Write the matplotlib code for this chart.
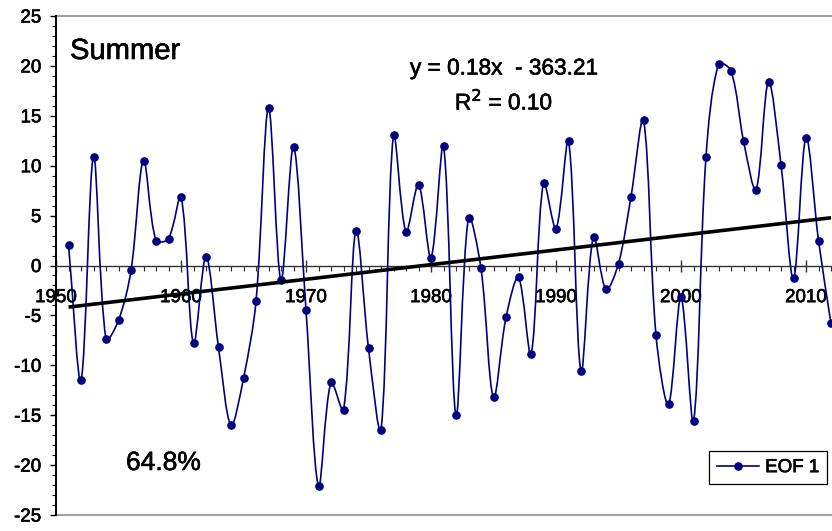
import numpy as np
import matplotlib
matplotlib.use("Agg")
import matplotlib.pyplot as plt
from matplotlib.path import Path
from matplotlib.patches import PathPatch
from matplotlib.lines import Line2D
from matplotlib.ticker import MultipleLocator
import matplotlib.patheffects as pe

plt.rcParams['font.family'] = ['Liberation Sans', 'DejaVu Sans']

# ---- data ----
years = list(range(1951, 2013))
eof1 = [2.1, -11.5, 10.9, -7.4, -5.5, -0.5, 10.5, 2.5, 2.7, 6.9,
        -7.8, 0.9, -8.2, -16.0, -11.3, -3.6, 15.8, -1.5, 11.9, -4.5,
        -22.1, -11.7, -14.5, 3.5, -8.3, -16.5, 13.1, 3.4, 8.1, 0.8,
        12.0, -15.0, 4.8, -0.3, -13.2, -5.2, -1.2, -8.9, 8.3, 3.7,
        12.5, -10.6, 2.9, -2.4, 0.2, 6.9, 14.6, -7.0, -13.9, -3.2,
        -15.6, 10.9, 20.2, 19.5, 12.5, 7.6, 18.4, 10.1, -1.3, 12.8,
        2.5, -5.8]
series_label = "EOF 1"
season_label = "Summer"
variance_label = "64.8%"
equation_text = "y = 0.18x  - 363.21"
r2_text = "R$^2$ = 0.10"
x_ticks = [1950, 1960, 1970, 1980, 1990, 2000, 2010]
y_ticks = [-25, -20, -15, -10, -5, 0, 5, 10, 15, 20, 25]

NAVY = "#000080"
GRAY = "#a0a0a0"
THICK = [pe.withStroke(linewidth=0.45, foreground="black")]

fig = plt.figure(figsize=(8.32, 5.31), dpi=100)
W, H = 832, 531
ax = fig.add_axes([56 / W, (H - 515) / H, (831 - 56) / W, (515 - 16) / H])
ax.set_xlim(1950, 2012)
ax.set_ylim(-25, 25)

# smoothed line: Bezier with tangents scaled by neighbouring segment lengths
x = np.array(years, dtype=float)
y = np.array(eof1, dtype=float)
pts = np.column_stack([x, y])
n = len(pts)
sx, sy = 12.5, 10.0  # approx pixels per data unit (for segment lengths)
seg = np.hypot(np.diff(x) * sx, np.diff(y) * sy)
tang = np.zeros_like(pts)
tang[0] = pts[1] - pts[0]
tang[-1] = pts[-1] - pts[-2]
for i in range(1, n - 1):
    tang[i] = pts[i + 1] - pts[i - 1]
verts = [pts[0]]
codes = [Path.MOVETO]
for i in range(n - 1):
    d = seg[i]
    d_prev = seg[i - 1] if i > 0 else d
    d_next = seg[i + 1] if i + 1 < n - 1 else d
    f1 = d / (d_prev + d) / 3.0 if i > 0 else 1.0 / 3.0
    f2 = d / (d + d_next) / 3.0 if i + 1 < n - 1 else 1.0 / 3.0
    c1 = pts[i] + tang[i] * f1
    c2 = pts[i + 1] - tang[i + 1] * f2
    verts += [c1, c2, pts[i + 1]]
    codes += [Path.CURVE4] * 3
patch = PathPatch(Path(verts, codes), facecolor="none", edgecolor=NAVY,
                  lw=1.2, zorder=3, transform=ax.transData)
ax.add_patch(patch)
ax.plot(x, y, "o", color=NAVY, ms=5.2, ls="none", zorder=3)

# linear trend
coef = np.polyfit(x, y, 1)
ax.plot([x[0], x[-1]], np.polyval(coef, [x[0], x[-1]]), color="black",
        lw=2.6, zorder=4, solid_capstyle="butt")

# spines
for s in ["top", "right"]:
    ax.spines[s].set_visible(False)
ax.spines["left"].set_color("black")
ax.spines["left"].set_linewidth(1.4)
ax.spines["bottom"].set_position(("data", 0))
ax.spines["bottom"].set_color("#333333")
ax.spines["bottom"].set_linewidth(1.0)
ax.plot([0, 1], [1, 1], transform=ax.transAxes, color=GRAY, lw=1.5,
        clip_on=False, zorder=1)
ax.plot([0, 1], [0, 0], transform=ax.transAxes, color=GRAY, lw=1.5,
        clip_on=False, zorder=1)

# ticks
ax.set_xticks(x_ticks)
ax.set_xticklabels([str(t) for t in x_ticks])
ax.xaxis.set_minor_locator(MultipleLocator(1))
ax.tick_params(axis="x", which="major", direction="inout", length=8,
               width=1.0, color="#333333", labelsize=13.5, pad=13)
ax.tick_params(axis="x", which="minor", direction="out", length=3.5,
               width=0.8, color="#333333")
ax.set_yticks(y_ticks)
ax.set_yticklabels([str(t) for t in y_ticks])
ax.yaxis.set_minor_locator(MultipleLocator(1))
ax.tick_params(axis="y", which="major", direction="out", length=4.5,
               width=1.0, labelsize=13.5, pad=6)
ax.tick_params(axis="y", which="minor", direction="out", length=3,
               width=0.8)
for lab in ax.get_xticklabels() + ax.get_yticklabels():
    lab.set_path_effects(THICK)

# texts
ax.text(70 / W, 1 - 51 / H, season_label, transform=fig.transFigure,
        fontsize=21, ha="left", va="center", path_effects=THICK)
ax.text(126 / W, 1 - 463 / H, variance_label, transform=fig.transFigure,
        fontsize=19, ha="left", va="center", path_effects=THICK)
ax.text(504 / W, 1 - 68 / H, equation_text, transform=fig.transFigure,
        fontsize=16.3, ha="center", va="center", path_effects=THICK)
ax.text(504 / W, 1 - 102 / H, r2_text, transform=fig.transFigure,
        fontsize=16.3, ha="center", va="center", path_effects=THICK)

# legend
handle = Line2D([], [], color=NAVY, marker="o", ms=5.2, lw=1.2)
leg = ax.legend([handle], [series_label], loc="lower right",
                bbox_to_anchor=(827 / W, (H - 484) / H),
                bbox_transform=fig.transFigure, fontsize=13.5,
                frameon=True, fancybox=False, framealpha=1,
                edgecolor="black", handlelength=2.2, borderpad=0.42,
                handletextpad=0.35, borderaxespad=0)
leg.get_frame().set_linewidth(0.9)
for t in leg.get_texts():
    t.set_path_effects(THICK)

fig.savefig("out.png", dpi=100)
